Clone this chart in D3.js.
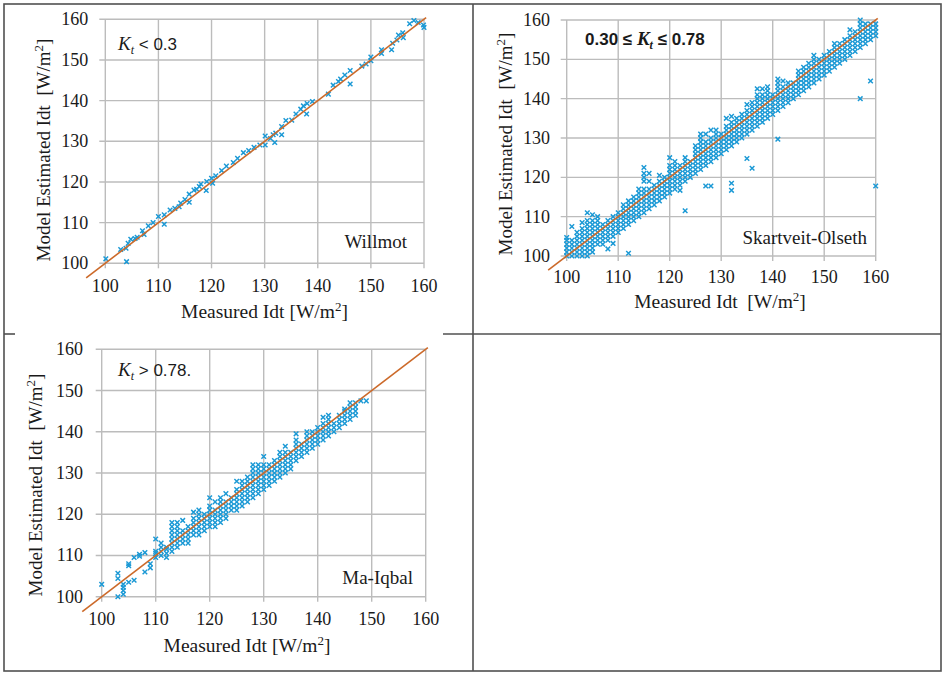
<!DOCTYPE html>
<html>
<head>
<meta charset="utf-8">
<script src="https://cdn.jsdelivr.net/npm/d3@7"></script>
<style>
  html, body { margin: 0; padding: 0; background: #fff; }
  svg { display: block; }
  text { font-family: "Liberation Serif", "Times New Roman", serif; fill: #1a1a1a; }
  .sans { font-family: "Liberation Sans", Arial, sans-serif; }
</style>
</head>
<body>
<svg id="chart" width="946" height="676"></svg>
<script>
// ---------- data ----------
const tickValues = [100, 110, 120, 130, 140, 150, 160];
const refLine = [96.4, 160.4];   // 1:1 line extent

// Willmot, Kt < 0.3  : [measured, estimated]
const willmotPts = [
  [100.1,101.1],[102.9,103.4],[103.9,103.7],[104,100.4],[104.3,104.9],[104.8,105.9],[105.6,106.1],
  [106,106.4],[107,108],[107.3,107.1],[108.1,109.2],[109,110],[110,111.5],[111.1,109.6],[111.1,111.9],
  [112.2,113.1],[113.1,113.5],[113.9,113.9],[114.2,114.8],[115,115.7],[115.8,115],[115.8,117],
  [116.7,118],[117.2,118.2],[117.7,118.9],[118,119.5],[119,117.9],[119.1,120.1],[120,120.9],
  [120.2,119.7],[120.8,121.5],[121.9,122.8],[122.8,123.9],[124.1,124.8],[124.9,125.8],[126,127.2],
  [127,127.7],[128,128.5],[129.1,129.1],[130.1,131.3],[130.1,129.1],[131.1,130.7],[131.6,131.6],
  [131.9,129.7],[132.1,132],[133.2,133.6],[133.2,131.6],[134,135.1],[135.1,135.2],[135.9,136.7],
  [136.8,137.9],[137.3,138.7],[137.9,136.7],[138,139.3],[139,139.8],[142,141.6],[142.9,143.8],
  [143.9,144.7],[144.3,145.3],[145.1,146.3],[146.1,147.4],[146.1,144.1],[148.3,148.5],[149.1,149],
  [150,150.7],[150,149.8],[152,151.6],[152,152.5],[153.9,152.5],[154.1,154.1],[154.9,154.9],
  [155.2,156.1],[156,156.7],[156.1,155.5],[157.3,158.9],[158.1,159.7],[158.9,159.2],[159.9,158.6],
  [160,158]
];

// Skartveit-Olseth, 0.30 <= Kt <= 0.78 : [measured, [estimated values]]
const skartveitCols = [
  [100,[100,101,102,103,104,104.7]],
  [101,[100,101,102,103,104,107.5]],
  [102,[100,101,102,103,104,105,106]],
  [103,[100,101,102,103,104,105,106,107,108.5]],
  [104,[100,101,102,103,104,105,106,107,108,109,111]],
  [105,[101,102,103,104,105,106,107,108,109,110.5]],
  [106,[103,104,105,106,107,108,109,110]],
  [107,[103,104,105,106,107,108]],
  [108,[101.8,104,105,106,107,108,109]],
  [109,[103.2,105,106,107,108,109,110]],
  [110,[106,107,108,109,110,111]],
  [111,[107,108,109,110,111,112,113]],
  [112,[100.7,108,109,110,111,112,113,114]],
  [113,[109,110,111,112,113,114,115]],
  [114,[110,111,112,113,114,115,116,117]],
  [115,[111,112,113,114,115,116,117,119,120,121,122.5]],
  [116,[112,113,114,115,116,117,119,121]],
  [117,[113,114,115,116,117,118]],
  [118,[114,115,116,117,118,119,120.5]],
  [119,[115,116,117,118,119,120]],
  [120,[116,117,118,119,120,121,122,123,125]],
  [121,[117,118,119,120,121,122,123,124]],
  [122,[116.7,118,119,120,121,122,123]],
  [123,[111.5,119,120,121,122,123,124,125]],
  [124,[120,121,122,123,124]],
  [125,[121,122,123,124,125,126,127,128]],
  [126,[122,123,124,125,126,127,128,129,130,131]],
  [127,[117.8,123,124,125,126,127,128,129,131]],
  [128,[117.8,124,125,126,127,128,129,130,132]],
  [129,[125,126,127,128,129,130,131,132]],
  [130,[126,127,128,129,130,131]],
  [131,[127,128,129,130,131,132,133,135]],
  [132,[116.7,118.5,128,129,130,131,132,133,134,135.5]],
  [133,[129,130,131,132,133,134,135]],
  [134,[130,131,132,133,134,135,136]],
  [135,[124.8,131,132,133,134,135,136,137,138.5]],
  [136,[122.3,132,133,134,135,136,137,138,139]],
  [137,[133,134,135,136,137,138,139,140,141,142.5]],
  [138,[134,135,136,137,138,139,140,141,142.5]],
  [139,[135,136,137,138,139,140,141,142,143]],
  [140,[136,137,138,139,140,141]],
  [141,[129.7,137,138,139,140,141,142,143,144,145]],
  [142,[138,139,140,141,142,143,144.5]],
  [143,[139,140,141,142,143,144]],
  [144,[140,141,142,143,144]],
  [145,[141,142,143,144,145,146,147]],
  [146,[142,143,144,145,146,147,148]],
  [147,[143,144,145,146,147,148,149]],
  [148,[144,145,146,147,148,149,150,151]],
  [149,[145,146,147,148,149,150]],
  [150,[146,147,148,149,150,151]],
  [151,[147,148,149,150,151,152]],
  [152,[148,149,150,151,152,153,154]],
  [153,[149,150,151,152,153,154]],
  [154,[150,151,152,153,154,155]],
  [155,[151,152,153,154,155,156,157.5]],
  [156,[152,153,154,155,156,157]],
  [157,[140,153,154,155,156,157,158,159,160]],
  [158,[154,155,156,157,158,159]],
  [159,[144.5,155,156,157,158,159]],
  [160,[117.8,156,157,158,159]]
];

// Ma-Iqbal, Kt > 0.78 : [measured, [estimated values]]
const maIqbalCols = [
  [100,[103]],
  [103,[100,104.4,105.7]],
  [104,[100.6,101.5,102.3,103]],
  [105,[103.5,107.5,108]],
  [106,[104,109.5]],
  [107,[109.8,110.3]],
  [108,[106,110.7]],
  [109,[107,108]],
  [110,[109.5,110.5,111,114]],
  [111,[110,111,112,113]],
  [112,[109.5,110.5,111.5,112]],
  [113,[111,112,113,114,115,116,117,118]],
  [114,[112,113,114,115,116,117,118]],
  [115,[113,114,115,116,118.5]],
  [116,[113,114,115,116,117]],
  [117,[115,116,117,118,119,120.5]],
  [118,[115,116,117,118,119,120,121]],
  [119,[116,117,118,119,120]],
  [120,[117,118,119,120,121,122,124]],
  [121,[117,118,119,120,121,123]],
  [122,[118,119,120,121,122,123,124]],
  [123,[119,120,121,122,123,125]],
  [124,[121,122,123,124]],
  [125,[121,122,123,124,125,126,128]],
  [126,[122,123,124,125,126,127,128]],
  [127,[123,124,125,126,127,128,129]],
  [128,[124,125,126,127,128,129,130,131,132]],
  [129,[125,126,127,128,129,130,131,132]],
  [130,[126,127,128,129,130,131,132,134]],
  [131,[127,128,129,130,131,132]],
  [132,[128,129,130,131,132,133]],
  [133,[129,130,131,132,133,134,135]],
  [134,[130,131,132,133,134,135,136.5]],
  [135,[131,132,133,134,135]],
  [136,[133,134,135,136,137,138,139.5]],
  [137,[134,135,136,137]],
  [138,[135,136,137,138,139,140]],
  [139,[136,137,138,139,140]],
  [140,[137,138,139,140,141]],
  [141,[138,139,140,141,142,143.5]],
  [142,[139,140,141,142,143,144]],
  [143,[140,141,142]],
  [144,[141,142,143,144]],
  [145,[142,143,144,145,145.5]],
  [146,[143,144,145,146,147]],
  [147,[144,145,146,147]],
  [148,[147.5]],
  [149,[147.5]]
];

const xTitle = "Measured Idt";
const yTitle = "Model Estimated Idt";

// ---------- drawing ----------
const svg = d3.select("#chart");
const GRID = "#bcbcbc", MARK = "#1b99d5", LINE = "#cc6a2a", BORDER = "#505050";

// table frame
const frame = svg.append("g").attr("fill", "none").attr("stroke", BORDER).attr("stroke-width", 1.6);
frame.append("rect").attr("x", 4).attr("y", 4).attr("width", 937).attr("height", 667);
frame.append("line").attr("x1", 473).attr("x2", 473).attr("y1", 4).attr("y2", 671);
frame.append("line").attr("x1", 4).attr("x2", 15).attr("y1", 334).attr("y2", 334);
frame.append("line").attr("x1", 443).attr("x2", 941).attr("y1", 334).attr("y2", 334);

function toPoints(cols) {
  const out = [];
  cols.forEach(([x, ys]) => ys.forEach(y => out.push([x, y])));
  return out;
}

function panel(cfg) {
  const x = d3.scaleLinear().domain([100, 160]).range([cfg.x0, cfg.x1]);
  const y = d3.scaleLinear().domain([100, 160]).range([cfg.y1, cfg.y0]);
  const g = svg.append("g");

  // grid
  g.append("g").selectAll("line").data(tickValues).join("line")
    .attr("x1", d => x(d)).attr("x2", d => x(d))
    .attr("y1", cfg.y0).attr("y2", cfg.y1 + 5)
    .attr("stroke", GRID).attr("stroke-width", 1.4);
  g.append("g").selectAll("line").data(tickValues).join("line")
    .attr("x1", cfg.x0 - 6).attr("x2", cfg.x1)
    .attr("y1", d => y(d)).attr("y2", d => y(d))
    .attr("stroke", GRID).attr("stroke-width", 1.4);

  // tick labels
  g.append("g").selectAll("text").data(tickValues).join("text")
    .attr("x", cfg.x0 - cfg.yLabOff).attr("y", d => y(d) + 6)
    .attr("text-anchor", "end").attr("font-size", 18).text(d => d);
  g.append("g").selectAll("text").data(tickValues).join("text")
    .attr("x", d => x(d)).attr("y", cfg.y1 + cfg.xLabOff)
    .attr("text-anchor", "middle").attr("font-size", 18).text(d => d);

  // markers
  const s = 2.3;
  g.append("g").selectAll("path").data(cfg.points).join("path")
    .attr("d", d => {
      const px = x(d[0]), py = y(d[1]);
      return `M${px - s},${py - s}L${px + s},${py + s}M${px - s},${py + s}L${px + s},${py - s}`;
    })
    .attr("stroke", MARK).attr("stroke-width", 1.45).attr("fill", "none");

  // 1:1 line
  g.append("line")
    .attr("x1", x(refLine[0])).attr("y1", y(refLine[0]))
    .attr("x2", x(refLine[1])).attr("y2", y(refLine[1]))
    .attr("stroke", LINE).attr("stroke-width", 1.6);

  // x axis title
  const xt = g.append("text").attr("x", cfg.xtX).attr("y", cfg.xtY)
    .attr("text-anchor", "middle").attr("font-size", 19.5).style("white-space", "pre");
  xt.append("tspan").text(xTitle + cfg.xGap + "[W/m");
  xt.append("tspan").attr("font-size", 13).attr("dy", -7).text("2");
  xt.append("tspan").attr("dy", 7).text("]");

  // y axis title
  const yt = g.append("text")
    .attr("transform", `translate(${cfg.ytX},${cfg.ytY}) rotate(-90)`)
    .attr("text-anchor", "middle").attr("font-size", 19).style("white-space", "pre");
  yt.append("tspan").text(yTitle + "  [W/m");
  yt.append("tspan").attr("font-size", 13).attr("dy", -7).text("2");
  yt.append("tspan").attr("dy", 7).text("]");

  // model name
  g.append("text").attr("x", cfg.nameX).attr("y", cfg.nameY)
    .attr("text-anchor", "end").attr("font-size", 19).text(cfg.name);

  cfg.kt(g);
}

function ktLabel(g, xPos, yPos, parts, bold) {
  const t = g.append("text").attr("x", xPos).attr("y", yPos).attr("font-size", 16)
    .style("white-space", "pre").attr("font-weight", bold ? "bold" : null);
  parts.forEach(p => {
    const ts = t.append("tspan").text(p.t);
    if (p.cls) ts.attr("class", p.cls);
    if (p.it) ts.attr("font-style", "italic").style("font-family", "Liberation Serif");
    if (p.sub) ts.attr("font-size", 12).attr("dy", 4);
    if (p.dy) ts.attr("dy", p.dy);
    if (p.fs) ts.attr("font-size", p.fs);
  });
}

panel({
  x0: 105.3, x1: 424, y0: 19.3, y1: 263.3,
  yLabOff: 17, xLabOff: 29,
  points: willmotPts,
  xtX: 264.5, xtY: 318, xGap: " ",
  ytX: 50, ytY: 150,
  name: "Willmot", nameX: 407, nameY: 248,
  kt: g => ktLabel(g, 118, 50, [
    {t: "K", it: true, fs: 19}, {t: "t", it: true, sub: true},
    {t: " < 0.3", cls: "sans", dy: -4, fs: 17}
  ])
});

panel({
  x0: 566.7, x1: 875.7, y0: 20, y1: 256,
  yLabOff: 16.7, xLabOff: 27,
  points: toPoints(skartveitCols),
  xtX: 720, xtY: 308, xGap: "  ",
  ytX: 512, ytY: 144,
  name: "Skartveit-Olseth", nameX: 867, nameY: 244,
  kt: g => ktLabel(g, 585, 45, [
    {t: "0.30 ≤ ", cls: "sans", fs: 17}, {t: "K", it: true, fs: 19}, {t: "t", it: true, sub: true},
    {t: " ≤ 0.78", cls: "sans", dy: -4, fs: 17}
  ], true)
});

panel({
  x0: 101.7, x1: 425.7, y0: 349.3, y1: 596.7,
  yLabOff: 18.7, xLabOff: 28,
  points: toPoints(maIqbalCols),
  xtX: 247, xtY: 652, xGap: " ",
  ytX: 42, ytY: 485,
  name: "Ma-Iqbal", nameX: 413, nameY: 584,
  kt: g => ktLabel(g, 118, 376, [
    {t: "K", it: true, fs: 19}, {t: "t", it: true, sub: true},
    {t: " > 0.78.", cls: "sans", dy: -4, fs: 17}
  ])
});
</script>
</body>
</html>
